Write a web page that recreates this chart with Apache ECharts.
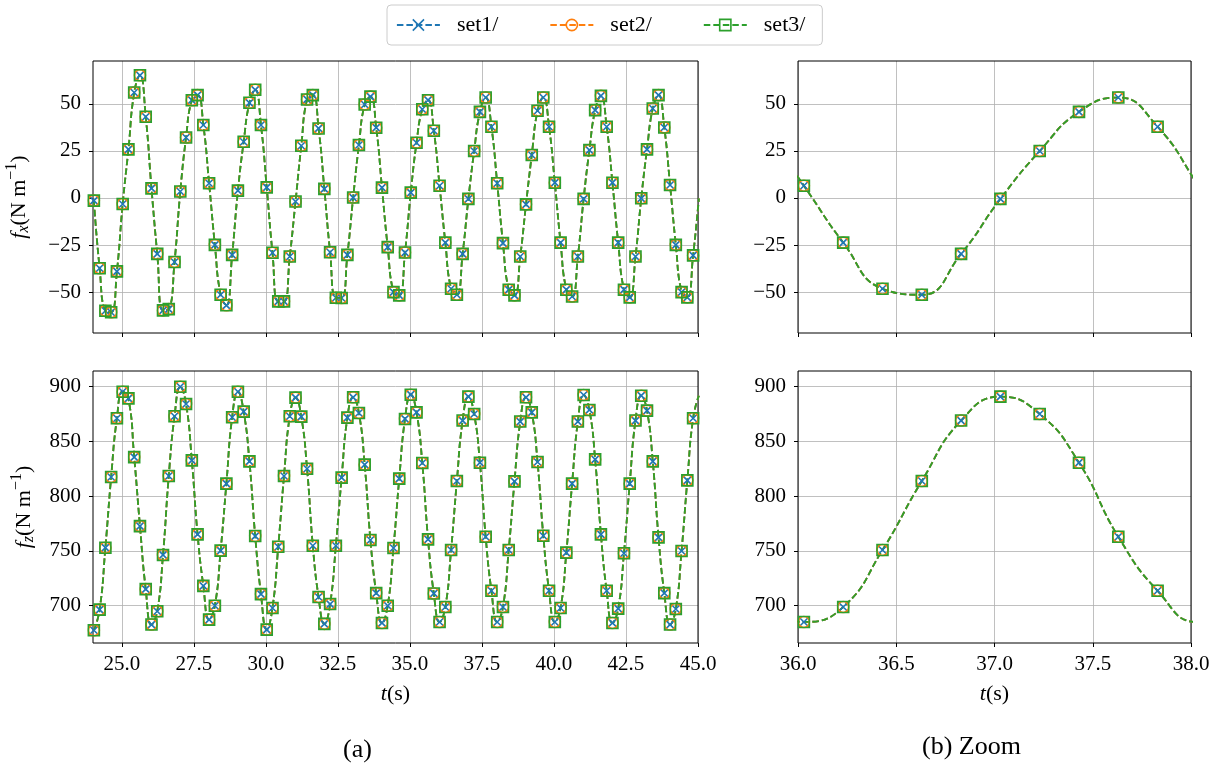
<!DOCTYPE html>
<html><head><meta charset="utf-8">
<script src="https://cdn.jsdelivr.net/npm/echarts@6/dist/echarts.min.js"></script>
<style>html,body{margin:0;padding:0;background:#fff}#c{width:1217px;height:765px}</style>
</head><body><div id="c"></div>
<script>
// sample times (s), one marker every 0.2 s
const tValues = [
  24.03,24.23,24.43,24.63,24.83,25.03,25.23,25.43,25.63,25.83,
  26.03,26.23,26.43,26.63,26.83,27.03,27.23,27.43,27.63,27.83,
  28.03,28.23,28.43,28.63,28.83,29.03,29.23,29.43,29.63,29.83,
  30.03,30.23,30.43,30.63,30.83,31.03,31.23,31.43,31.63,31.83,
  32.03,32.23,32.43,32.63,32.83,33.03,33.23,33.43,33.63,33.83,
  34.03,34.23,34.43,34.63,34.83,35.03,35.23,35.43,35.63,35.83,
  36.03,36.23,36.43,36.63,36.83,37.03,37.23,37.43,37.63,37.83,
  38.03,38.23,38.43,38.63,38.83,39.03,39.23,39.43,39.63,39.83,
  40.03,40.23,40.43,40.63,40.83,41.03,41.23,41.43,41.63,41.83,
  42.03,42.23,42.43,42.63,42.83,43.03,43.23,43.43,43.63,43.83,
  44.03,44.23,44.43,44.63,44.83,45.03
];
// f_x (N/m)
const fxValues = [
  -1.4,-37.3,-59.9,-60.7,-39.0,-3.2,25.8,56.0,65.1,43.1,
  5.1,-29.7,-59.7,-59.0,-34.0,3.4,32.1,51.9,54.6,38.7,
  7.8,-24.9,-51.4,-57.0,-30.2,3.9,29.8,50.5,57.4,38.7,
  5.6,-29.1,-54.9,-54.9,-31.1,-1.9,27.7,52.3,54.6,36.9,
  4.8,-28.8,-53.0,-53.1,-30.2,0.2,28.1,49.6,53.8,37.3,
  5.5,-26.1,-50.0,-51.7,-29.0,2.8,29.3,47.1,51.9,35.7,
  6.5,-23.7,-48.2,-51.4,-29.7,-0.5,24.9,45.7,53.3,37.8,
  7.8,-24.0,-48.7,-51.7,-31.1,-3.4,22.8,46.3,53.3,37.8,
  8.1,-23.7,-48.7,-52.3,-31.1,-0.5,25.4,46.6,54.2,37.8,
  8.1,-23.7,-48.7,-52.8,-31.1,-0.2,25.8,47.5,54.6,37.4,
  6.9,-24.9,-50.0,-52.8,-30.5,-0.2
];
// f_z (N/m)
const fzValues = [
  677.6,696.4,752.9,817.4,870.9,895.1,889.0,835.5,772.6,715.1,
  682.8,694.9,746.3,818.3,872.7,899.6,883.9,832.5,765.0,718.1,
  687.3,700.0,750.2,811.3,871.8,895.1,877.0,831.6,763.5,710.6,
  678.2,697.9,753.8,818.3,872.7,889.7,872.4,824.9,754.7,707.9,
  683.4,701.5,754.7,816.8,871.5,890.0,875.7,828.6,759.9,711.5,
  684.3,700.0,752.6,815.9,870.3,892.4,876.3,830.1,760.5,711.2,
  685.2,698.8,750.8,813.7,868.8,890.6,874.8,830.4,762.9,713.6,
  685.2,698.8,750.8,813.4,867.9,890.0,876.3,831.0,763.8,713.6,
  685.2,697.9,748.4,811.3,867.9,892.1,878.5,833.4,765.0,713.6,
  684.3,697.3,747.8,811.3,868.8,891.5,877.9,831.6,762.3,711.5,
  682.8,697.0,749.9,814.3,870.9,891.5
];
const setNames = ['set1/', 'set2/', 'set3/'];
const leftTicksX = [25, 27.5, 30, 32.5, 35, 37.5, 40, 42.5, 45];
const zoomTicksX = [36, 36.5, 37, 37.5, 38];
const fxTicks = [-50, -25, 0, 25, 50];
const fzTicks = [700, 750, 800, 850, 900];

const FF = 'Liberation Serif, DejaVu Serif, serif';
const colors = ['#1f77b4', '#ff7f0e', '#2ca02c'];
const symbols = ['path://M0,0L10,10M10,0L0,10', 'circle', 'rect'];
const symbolSizes = [10, 11, 11];
const fmtMinus = v => (v < 0 ? '\u2212' + Math.abs(v) : String(v));

const grids = [
  {left: 93, top: 61, width: 605, height: 272},
  {left: 93, top: 371, width: 605, height: 272},
  {left: 798, top: 61, width: 393, height: 272},
  {left: 798, top: 371, width: 393, height: 272}
].map(g => Object.assign(g, {show: true, borderColor: '#000', borderWidth: 1, backgroundColor: 'rgba(0,0,0,0)', z: 1, containLabel: false}));

const nameRich = {
  i: {fontFamily: FF, fontStyle: 'italic', fontSize: 22, lineHeight: 30, color: '#000'},
  sub: {fontFamily: FF, fontStyle: 'italic', fontSize: 16, lineHeight: 16, padding: [9, 0, 0, 0], color: '#000'},
  n: {fontFamily: FF, fontSize: 22, lineHeight: 30, color: '#000'},
  sup: {fontFamily: FF, fontSize: 16, lineHeight: 16, padding: [0, 0, 14, 0], color: '#000'}
};

function xAx(gi, min, max, ticks, showLabel, fmtDigits) {
  const a = {
    gridIndex: gi, type: 'value', min: min, max: max,
    axisLine: {show: false, onZero: false},
    axisTick: {show: true, length: 4, customValues: ticks, lineStyle: {color: '#000', width: 1}},
    axisLabel: {show: showLabel, customValues: ticks, margin: 11, color: '#000', fontSize: 21, fontFamily: FF,
      formatter: v => Number(v).toFixed(fmtDigits)},
    splitLine: {show: true, lineStyle: {color: '#b0b0b0', width: 0.8}}
  };
  if (showLabel) {
    a.name = '{i|t}{n|(s)}';
    a.nameLocation = 'middle';
    a.nameGap = 36;
    a.nameTextStyle = {rich: nameRich};
  }
  return a;
}
function yAx(gi, min, max, ticks, name, gap) {
  const a = {
    gridIndex: gi, type: 'value', min: min, max: max,
    axisLine: {show: false, onZero: false},
    axisTick: {show: true, length: 4, customValues: ticks, lineStyle: {color: '#000', width: 1}},
    axisLabel: {show: true, customValues: ticks, margin: 12, color: '#000', fontSize: 21, fontFamily: FF,
      formatter: fmtMinus},
    splitLine: {show: true, lineStyle: {color: '#b0b0b0', width: 0.8}}
  };
  if (name) {
    a.name = name;
    a.nameLocation = 'middle';
    a.nameRotate = 90;
    a.nameGap = gap;
    a.nameTextStyle = {rich: nameRich};
  }
  return a;
}

const fxMin = -71.7, fxMax = 72.7, fzMin = 666, fzMax = 914;

function mkSeries(gi, vals) {
  return setNames.map((n, i) => ({
    type: 'line', name: n, xAxisIndex: gi, yAxisIndex: gi,
    data: tValues.map((t, k) => [t, vals[k]]),
    smooth: 0.5, symbol: symbols[i], symbolSize: symbolSizes[i],
    showSymbol: true, showAllSymbol: true, clip: true, silent: true,
    emphasis: {disabled: true},
    lineStyle: {color: colors[i], width: 1.8, type: [6.5, 3]},
    itemStyle: {color: 'rgba(0,0,0,0)', borderColor: colors[i], borderWidth: 1.6},
    z: 2
  }));
}

const option = {
  animation: false,
  backgroundColor: '#fff',
  grid: grids,
  xAxis: [
    xAx(0, 24, 45, leftTicksX, false, 1),
    xAx(1, 24, 45, leftTicksX, true, 1),
    xAx(2, 36, 38, zoomTicksX, false, 1),
    xAx(3, 36, 38, zoomTicksX, true, 1)
  ],
  yAxis: [
    yAx(0, fxMin, fxMax, fxTicks, '{i|f}{sub|x}{n|(N m}{sup|\u22121}{n|)}', 59),
    yAx(1, fzMin, fzMax, fzTicks, '{i|f}{sub|z}{n|(N m}{sup|\u22121}{n|)}', 54),
    yAx(2, fxMin, fxMax, fxTicks, null),
    yAx(3, fzMin, fzMax, fzTicks, null)
  ],
  legend: {
    data: setNames, left: 387, top: 5, orient: 'horizontal',
    itemWidth: 43, itemHeight: 14, itemGap: 51,
    padding: [9, 17, 9, 9],
    backgroundColor: '#fff', borderColor: '#cccccc', borderWidth: 1, borderRadius: 4,
    textStyle: {fontFamily: FF, fontSize: 22, color: '#000', padding: [0, 0, 0, 12]},
    itemStyle: {borderWidth: 1.6},
    lineStyle: {width: 1.8},
    selectedMode: false
  },
  graphic: [
    {type: 'text', x: 357.5, y: 750, style: {text: '(a)', align: 'center', verticalAlign: 'middle', font: '26px ' + FF, fill: '#000'}},
    {type: 'text', x: 971.5, y: 747, style: {text: '(b) Zoom', align: 'center', verticalAlign: 'middle', font: '26px ' + FF, fill: '#000'}}
  ],
  series: [].concat(mkSeries(0, fxValues), mkSeries(1, fzValues), mkSeries(2, fxValues), mkSeries(3, fzValues))
};
const chart = echarts.init(document.getElementById('c'), null, {renderer: 'canvas'});
chart.setOption(option);
</script></body></html>
